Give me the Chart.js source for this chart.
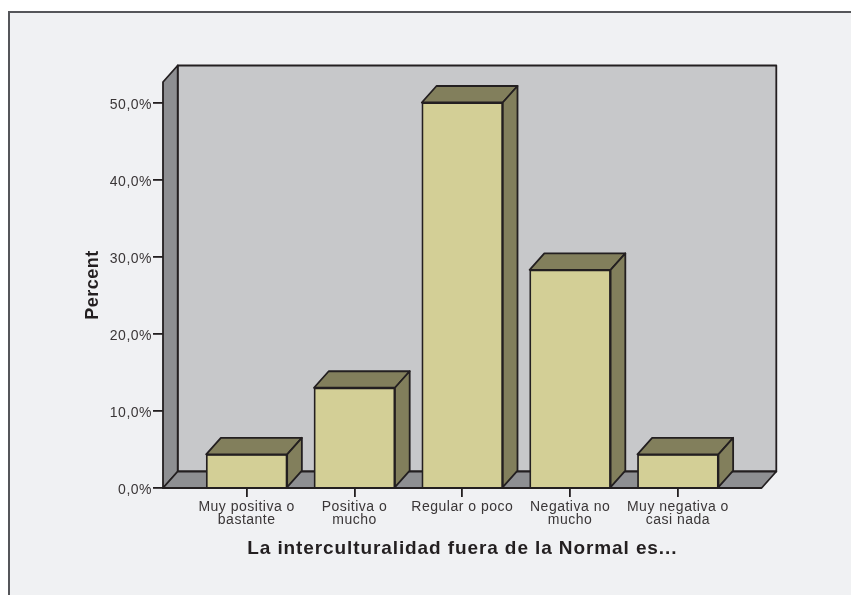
<!DOCTYPE html>
<html>
<head>
<meta charset="utf-8">
<title>La interculturalidad fuera de la Normal es...</title>
<script src="https://cdn.jsdelivr.net/npm/chart.js@4"></script>
<style>
  html, body { margin: 0; height: 100%; overflow: hidden; background: #fff; }
  #panel { position: absolute; left: 8px; top: 11px; right: 0; bottom: 0; background: #f0f1f3; border-left: 2px solid #55565a; border-top: 2px solid #55565a; }
  #chart { position: absolute; left: 0; top: 0; }
</style>
</head>
<body>
<div id="panel"></div>
<canvas id="chart" width="851" height="595"></canvas>
<script>
const categories = [
  ["Muy positiva o", "bastante"],
  ["Positiva o", "mucho"],
  "Regular o poco",
  ["Negativa no", "mucho"],
  ["Muy negativa o", "casi nada"]
];
const percents = [4.37, 13.0, 50.0, 28.3, 4.37];
const yTicks = [0, 10, 20, 30, 40, 50];
const yMax = 52.66;

const ink = "#231f20";
const depthX = 14.7;
const depthY = 16.5;

function poly(ctx, pts, fill){
  ctx.beginPath();
  pts.forEach((p, i) => i ? ctx.lineTo(p[0], p[1]) : ctx.moveTo(p[0], p[1]));
  ctx.closePath();
  ctx.fillStyle = fill;
  ctx.fill();
  ctx.stroke();
}

// back wall, side wall and floor of the fake 3D box
const walls = {
  id: "walls",
  beforeDraw(chart){
    const ctx = chart.ctx;
    const a = chart.chartArea;
    ctx.letterSpacing = "0.5px";
    ctx.save();
    ctx.strokeStyle = ink;
    ctx.lineWidth = 1.8;
    ctx.lineJoin = "round";
    poly(ctx, [[a.left + depthX, a.top - depthY], [a.right + depthX, a.top - depthY],
               [a.right + depthX, a.bottom - depthY], [a.left + depthX, a.bottom - depthY]], "#c7c8ca");
    poly(ctx, [[a.left, a.top], [a.left + depthX, a.top - depthY],
               [a.left + depthX, a.bottom - depthY], [a.left, a.bottom]], "#8e8f92");
    poly(ctx, [[a.left, a.bottom], [a.left + depthX, a.bottom - depthY],
               [a.right + depthX, a.bottom - depthY], [a.right, a.bottom]], "#8e8f92");
    ctx.restore();
  }
};

// top and right faces, taken from the bars the library placed
const barDepth = {
  id: "barDepth",
  afterDatasetsDraw(chart){
    const ctx = chart.ctx;
    ctx.save();
    ctx.strokeStyle = ink;
    ctx.lineWidth = 1.8;
    ctx.lineJoin = "round";
    chart.getDatasetMeta(0).data.forEach(bar => {
      const l = bar.x - bar.width / 2;
      const r = bar.x + bar.width / 2;
      poly(ctx, [[l, bar.y], [l + depthX, bar.y - depthY], [r + depthX, bar.y - depthY], [r, bar.y]], "#827f5c");
      poly(ctx, [[r, bar.y], [r + depthX, bar.y - depthY], [r + depthX, bar.base - depthY], [r, bar.base]], "#827f5c");
    });
    ctx.restore();
  }
};

// the reference's title is set wider than its tick labels
function wideTitle(s){
  if(s.drawTitle.wrapped) return;
  const draw = s.drawTitle;
  s.drawTitle = function(){
    s.ctx.letterSpacing = "0.9px";
    draw.call(s);
    s.ctx.letterSpacing = "0.5px";
  };
  s.drawTitle.wrapped = true;
}

// y labels sit a little below their tick marks
function lowerLabels(s){
  if(s.drawLabels.wrapped) return;
  const draw = s.drawLabels;
  s.drawLabels = function(area){
    s.ctx.save();
    s.ctx.translate(0, 2.5);
    draw.call(s, area);
    s.ctx.restore();
  };
  s.drawLabels.wrapped = true;
}

new Chart(document.getElementById("chart"), {
  type: "bar",
  data: {
    datasets: [{
      data: percents.map((v, i) => ({ x: i, y: v })),
      backgroundColor: "#d3cf96",
      borderColor: ink,
      borderWidth: 1.8,
      barThickness: 81
    }]
  },
  options: {
    responsive: false,
    animation: false,
    layout: { padding: { left: 0, right: 89.4, top: 82, bottom: 0 } },
    plugins: { legend: { display: false }, tooltip: { enabled: false } },
    scales: {
      x: {
        type: "linear",
        offset: false,
        min: -0.776,
        max: 4.776,
        afterBuildTicks: s => { s.ticks = categories.map((c, i) => ({ value: i })); },
        afterFit: s => { s.height = 107; wideTitle(s); },
        grid: { offset: false, drawOnChartArea: false, color: ink, lineWidth: 1.8, tickLength: 9 },
        border: { display: false },
        ticks: {
          autoSkip: false,
          maxRotation: 0,
          padding: 4,
          color: "#3a3637",
          font: { family: "'Liberation Sans'", size: 14, lineHeight: 0.93 },
          callback: v => categories[v]
        },
        title: {
          display: true,
          text: "La interculturalidad fuera de la Normal es...",
          color: ink,
          font: { family: "'Liberation Sans'", size: 19, weight: "bold" },
          padding: { top: 0, bottom: 35 }
        }
      },
      y: {
        min: 0,
        max: yMax,
        afterBuildTicks: s => { s.ticks = yTicks.map(v => ({ value: v })); },
        afterFit: s => { s.width = 163; lowerLabels(s); },
        grid: { drawOnChartArea: false, color: ink, lineWidth: 1.8, tickLength: 10 },
        border: { display: false },
        ticks: {
          padding: 1,
          color: "#3a3637",
          font: { family: "'Liberation Sans'", size: 14 },
          callback: v => v.toFixed(1).replace(".", ",") + "%"
        },
        title: {
          display: true,
          text: "Percent",
          color: ink,
          font: { family: "'Liberation Sans'", size: 18, weight: "bold" },
          padding: { top: 82, bottom: 0 }
        }
      }
    }
  },
  plugins: [walls, barDepth]
});
</script>
</body>
</html>
